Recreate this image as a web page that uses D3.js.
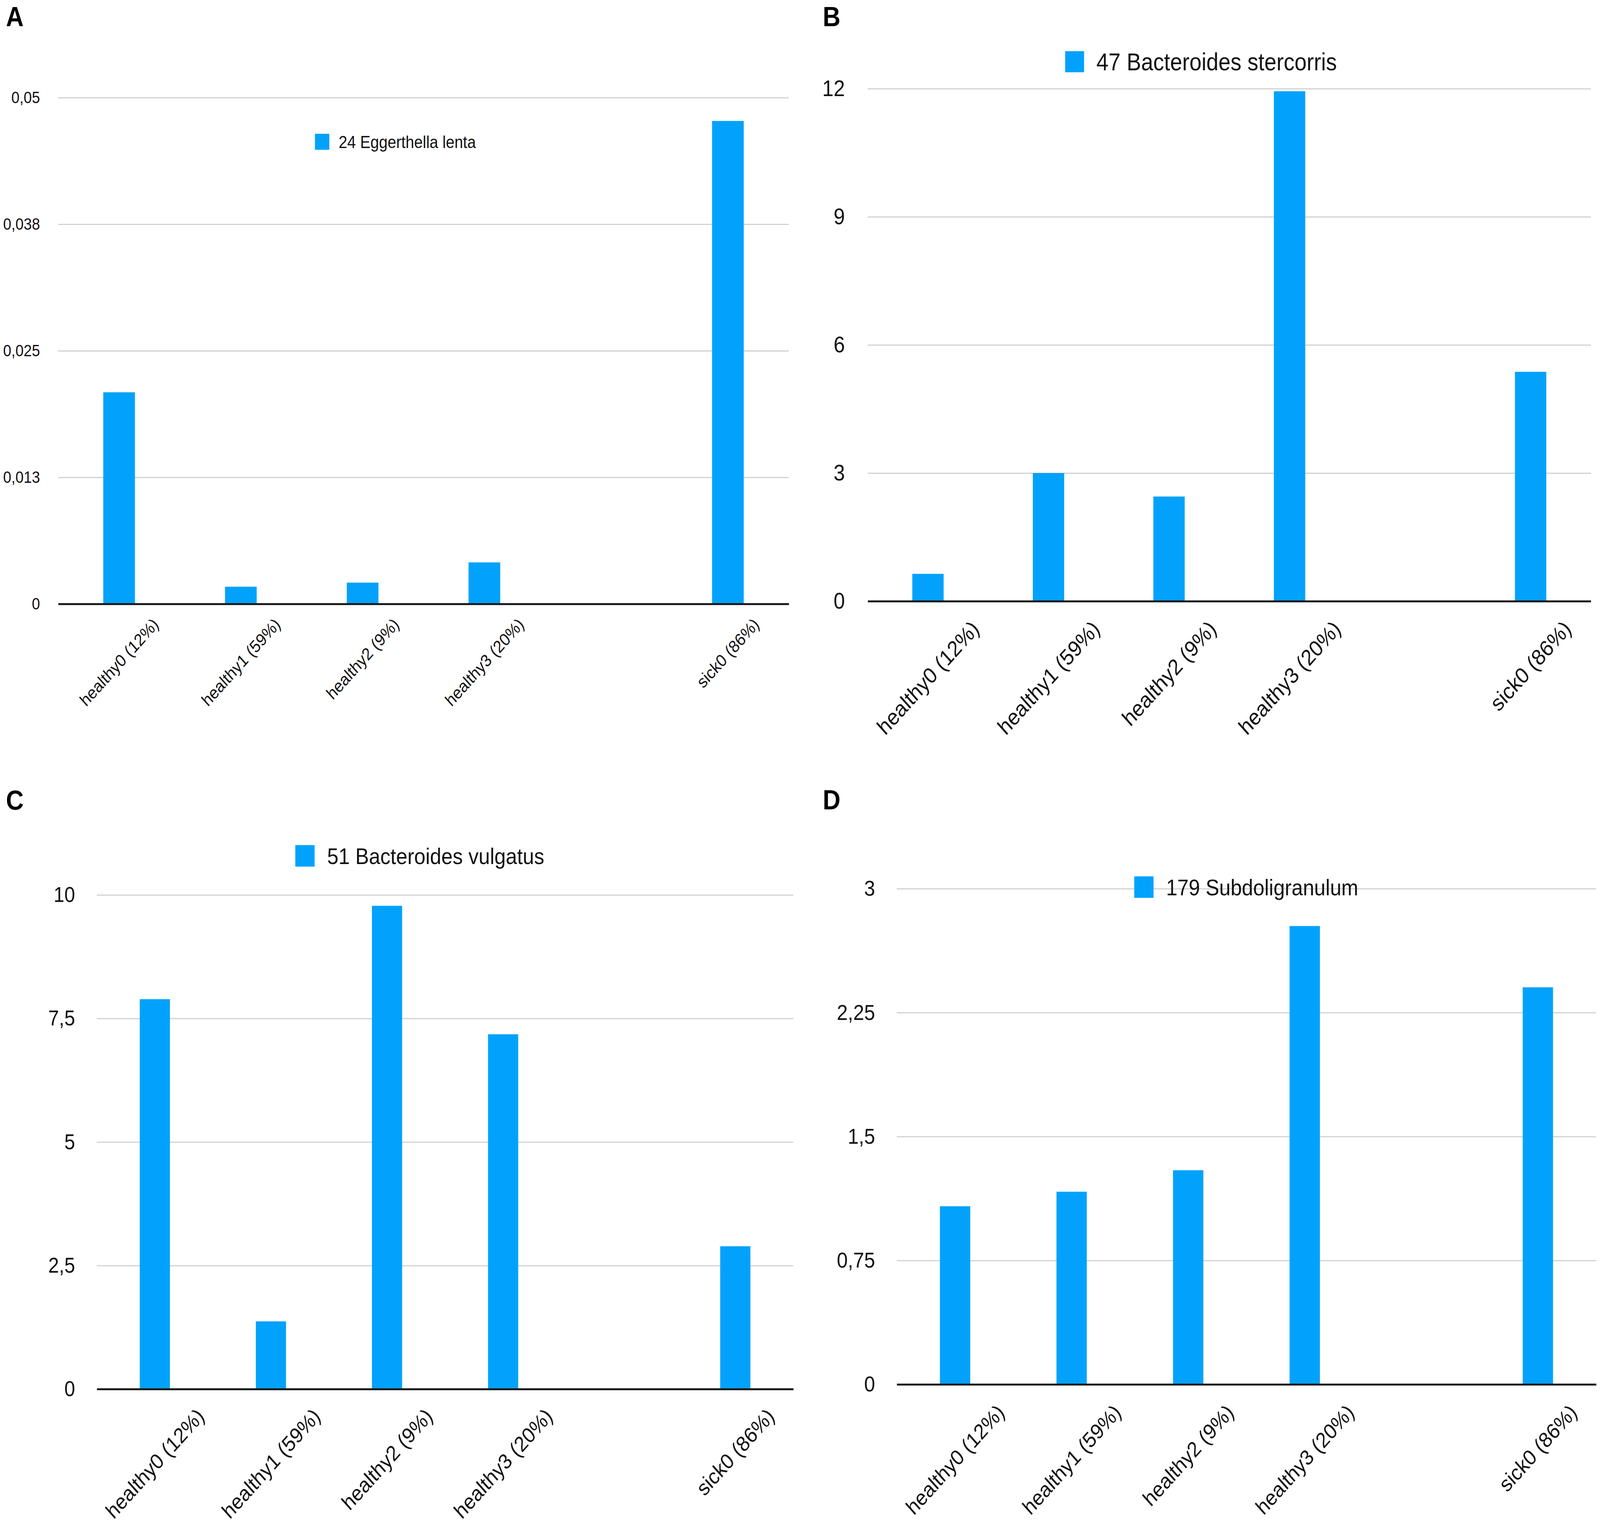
<!DOCTYPE html>
<html>
<head>
<meta charset="utf-8">
<script src="https://cdn.jsdelivr.net/npm/d3@7"></script>
<style>
  html, body { margin: 0; padding: 0; background: #fff; overflow: hidden; }
  svg { display: block; }
  text { font-family: "Liberation Sans", Arial, Helvetica, sans-serif; }
</style>
</head>
<body>
<svg id="fig"></svg>
<script>
// Data
const categories = ["healthy0 (12%)", "healthy1 (59%)", "healthy2 (9%)", "healthy3 (20%)", "", "sick0 (86%)"];

const valuesA = [0.0209, 0.0017, 0.0021, 0.0041, null, 0.0477];
const valuesB = [0.64, 3.0, 2.45, 11.94, null, 5.37];
const valuesC = [7.89, 1.37, 9.78, 7.18, null, 2.89];
const valuesD = [1.078, 1.166, 1.296, 2.774, null, 2.403];

const ticksA = [0, 0.0125, 0.025, 0.0375, 0.05];
const tickLabelsA = ["0", "0,013", "0,025", "0,038", "0,05"];
const ticksB = [0, 3, 6, 9, 12];
const tickLabelsB = ["0", "3", "6", "9", "12"];
const ticksC = [0, 2.5, 5, 7.5, 10];
const tickLabelsC = ["0", "2,5", "5", "7,5", "10"];
const ticksD = [0, 0.75, 1.5, 2.25, 3];
const tickLabelsD = ["0", "0,75", "1,5", "2,25", "3"];

const seriesNames = ["24 Eggerthella lenta", "47 Bacteroides stercorris", "51 Bacteroides vulgatus", "179 Subdoligranulum"];
const panelLetters = ["A", "B", "C", "D"];

// Layout (pixel positions of each panel, in the 4562 x 3904 figure space)
const width = 4562, height = 3904;
const barColor = "#02a2fc";

const layout = [
  { x0: 166, x1: 2249, top: 250, base: 1546, tickFs: 42, tickGap: 52,
    legX: 898, legY: 363, legSq: 41, legFs: 44, labFs: 44, labGap: 32, letX: 17, letY: 67 },
  { x0: 2474, x1: 4536, top: 227, base: 1539, tickFs: 58, tickGap: 65,
    legX: 3037, legY: 158, legSq: 54, legFs: 62, labFs: 57, labGap: 44, letX: 2346, letY: 67 },
  { x0: 276, x1: 2262, top: 2291, base: 3556, tickFs: 55, tickGap: 62,
    legX: 842, legY: 2191, legSq: 55, legFs: 58, labFs: 55, labGap: 44, letX: 17, letY: 2073 },
  { x0: 2557, x1: 4551, top: 2275, base: 3544, tickFs: 56, tickGap: 62,
    legX: 3234, legY: 2271, legSq: 55, legFs: 58, labFs: 55, labGap: 46, letX: 2346, letY: 2072 }
];

// svg fills the whole window, drawn in figure units
const svg = d3.select('#fig')
  .attr('viewBox', `0 0 ${width} ${height}`)
  .attr('preserveAspectRatio', 'none')
  .style('width', '100vw')
  .style('height', '100vh')
  .style('background', 'white');

function drawPanel(L, values, ticks, tickLabels, name, letter) {
  const g = svg.append('g');

  const xScale = d3.scaleBand()
    .domain(categories)
    .range([L.x0, L.x1])
    .padding(0);

  const yScale = d3.scaleLinear()
    .domain([0, ticks[ticks.length - 1]])
    .range([L.base, L.top]);

  // y axis + gridlines
  const yAxis = g.append('g')
    .attr('transform', `translate(${L.x0}, 0)`)
    .call(d3.axisLeft(yScale)
      .tickValues(ticks)
      .tickFormat((d, i) => tickLabels[i])
      .tickSizeInner(-(L.x1 - L.x0))
      .tickSizeOuter(0)
      .tickPadding(L.tickGap));
  yAxis.select('.domain').remove();
  yAxis.selectAll('line')
    .attr('stroke', '#d2d2d2')
    .attr('stroke-width', 3);
  yAxis.selectAll('text')
    .attr('font-size', L.tickFs)
    .attr('font-family', '"Liberation Sans", Arial, sans-serif')
    .attr('fill', '#111');

  // legend
  g.append('rect')
    .attr('x', L.legX)
    .attr('y', L.legY - L.legSq / 2)
    .attr('width', L.legSq)
    .attr('height', L.legSq)
    .attr('fill', barColor);
  g.append('text')
    .attr('x', L.legX + L.legSq * 1.65)
    .attr('y', L.legY)
    .attr('dy', '0.36em')
    .attr('font-size', L.legFs)
    .attr('fill', '#111')
    .text(name);

  // bars
  const data = categories.map((c, i) => ({ c: c, v: values[i] })).filter(d => d.v != null);
  const bw = xScale.bandwidth() * 0.26;
  g.selectAll('rect.bar')
    .data(data)
    .enter()
    .append('rect')
    .attr('class', 'bar')
    .attr('x', d => xScale(d.c) + (xScale.bandwidth() - bw) / 2)
    .attr('y', d => yScale(d.v))
    .attr('width', bw)
    .attr('height', d => yScale(0) - yScale(d.v))
    .attr('fill', barColor);

  // x axis (baseline + slanted labels)
  const xAxis = g.append('g')
    .attr('transform', `translate(0, ${yScale(0)})`)
    .call(d3.axisBottom(xScale).tickSize(0).tickSizeOuter(0));
  xAxis.select('.domain')
    .attr('stroke', '#1a1a1a')
    .attr('stroke-width', 5);
  xAxis.selectAll('text')
    .attr('font-size', L.labFs)
    .attr('font-family', '"Liberation Sans", Arial, sans-serif')
    .attr('fill', '#111')
    .attr('text-anchor', 'middle')
    .attr('y', 0)
    .attr('dy', '0.35em')
    .attr('transform', function() {
      const len = this.getComputedTextLength();
      const half = (len + L.labFs * 0.8) * Math.SQRT1_2 / 2;
      return `translate(0, ${L.labGap + half}) rotate(-45)`;
    });

  // panel letter
  svg.append('text')
    .attr('x', L.letX)
    .attr('y', L.letY)
    .attr('font-size', 70)
    .attr('font-weight', 'bold')
    .attr('fill', '#000')
    .text(letter);
}

drawPanel(layout[0], valuesA, ticksA, tickLabelsA, seriesNames[0], panelLetters[0]);
drawPanel(layout[1], valuesB, ticksB, tickLabelsB, seriesNames[1], panelLetters[1]);
drawPanel(layout[2], valuesC, ticksC, tickLabelsC, seriesNames[2], panelLetters[2]);
drawPanel(layout[3], valuesD, ticksD, tickLabelsD, seriesNames[3], panelLetters[3]);
</script>
</body>
</html>
